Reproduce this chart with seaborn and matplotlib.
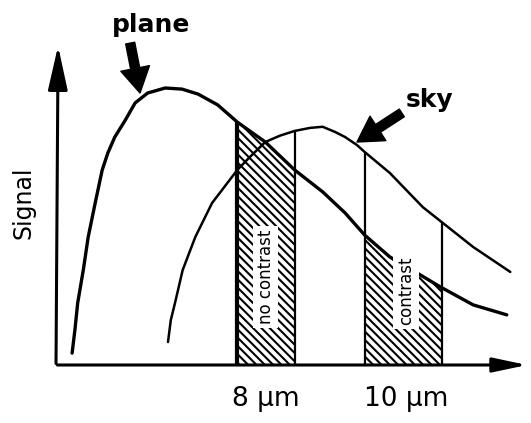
import numpy as np
import matplotlib
matplotlib.use("Agg")
import matplotlib.pyplot as plt
import seaborn as sns

# DATA (wavelength in um, signal in arbitrary units)
plane_wl  = [5.23, 5.27, 5.31, 5.39, 5.46, 5.56, 5.66, 5.74, 5.84, 5.99, 6.13, 6.31, 6.56,
             6.80, 7.03, 7.31, 7.59, 7.99, 8.41, 8.81, 9.13, 9.41, 9.77, 10.16, 10.49, 10.96, 11.44]
plane_sig = [4.3, 12.6, 22.4, 34.3, 46.2, 58.5, 70.4, 76.5, 82.3, 88.4, 94.6, 98.2, 100.0,
             99.6, 97.8, 93.9, 87.7, 80.5, 70.4, 62.5, 54.9, 46.9, 39.0, 33.2, 28.2, 21.7, 18.1]
sky_wl    = [6.60, 6.64, 6.70, 6.81, 6.99, 7.23, 7.59, 7.77, 7.99, 8.20, 8.41, 8.63, 8.81,
             8.99, 9.13, 9.30, 9.41, 9.77, 10.24, 10.51, 10.96, 11.49]
sky_sig   = [8.3, 16.2, 22.4, 34.3, 46.2, 58.5, 70.4, 75.1, 80.5, 82.8, 84.5, 85.6, 86.0,
             84.1, 82.3, 79.4, 76.9, 69.3, 57.0, 51.6, 42.6, 33.6]

bands       = [(7.59, 8.41), (9.41, 10.51)]
band_labels = ["no contrast", "contrast"]
tick_pos    = [8, 10]
tick_labels = ["8 µm", "10 µm"]

sns.set_style("white")
plt.rcParams["font.family"] = ["DejaVu Sans"]
plt.rcParams["text.color"] = "black"
plt.rcParams["xtick.color"] = "black"
plt.rcParams["hatch.linewidth"] = 1.5
plt.rcParams["hatch.color"] = "black"

fig = plt.figure(figsize=(5.31, 4.23), dpi=100)
ax = fig.add_axes([0, 58 / 423, 1, 365 / 423])
ax.set_xlim(4.2, 11.786)
ax.set_ylim(0, 131.77)

# hatched bands under the plane curve
for (lo, hi), lab in zip(bands, band_labels):
    xs = np.linspace(lo, hi, 60)
    ys = np.interp(xs, plane_wl, plane_sig)
    ax.fill_between(xs, 0, ys, facecolor="white", hatch="\\" * 4, edgecolor="black",
                    linewidth=0, zorder=1)
    for i, x in enumerate((lo, hi)):
        top = max(np.interp(x, plane_wl, plane_sig), np.interp(x, sky_wl, sky_sig))
        lw = 3 if (lo == bands[0][0] and i == 0) else 1.6
        ax.plot([x, x], [0, top], color="black", lw=lw, zorder=3, solid_capstyle="butt")

sns.lineplot(x=plane_wl, y=plane_sig, ax=ax, color="black", linewidth=2.4, zorder=4)
sns.lineplot(x=sky_wl, y=sky_sig, ax=ax, color="black", linewidth=1.8, zorder=4)

# band labels on white boxes
ax.text(8.0, 31.8, band_labels[0], rotation=90, ha="center", va="center", fontsize=12,
        bbox=dict(facecolor="white", edgecolor="none", pad=2.5), zorder=5)
ax.text(10.0, 26.7, band_labels[1], rotation=90, ha="center", va="center", fontsize=12,
        bbox=dict(facecolor="white", edgecolor="none", pad=3), zorder=5)

# axes drawn as arrows
ax.annotate("", xy=(5.03, 116.2), xytext=(5.0, -0.5),
            arrowprops=dict(arrowstyle="-|>,head_length=1.35,head_width=0.3",
                            mutation_scale=20, lw=2.2, color="black"))
ax.annotate("", xy=(11.77, 0), xytext=(4.98, 0),
            arrowprops=dict(arrowstyle="-|>,head_length=1.04,head_width=0.22",
                            mutation_scale=20, lw=2.2, color="black"))

# curve names with pointers
ax.annotate("", xy=(6.2, 98.2), xytext=(6.06, 116.2),
            arrowprops=dict(arrowstyle="simple,head_length=0.9,head_width=1.05,tail_width=0.33",
                            mutation_scale=20, color="black", shrinkA=0, shrinkB=0))
ax.annotate("", xy=(9.3, 80.5), xytext=(9.94, 91.0),
            arrowprops=dict(arrowstyle="simple,head_length=0.9,head_width=1.05,tail_width=0.33",
                            mutation_scale=20, color="black", shrinkA=0, shrinkB=0))
ax.text(6.36, 122.7, "plane", ha="center", va="center", fontsize=18, fontweight="bold")
ax.text(10.34, 95.7, "sky", ha="center", va="center", fontsize=18, fontweight="bold")

ax.text(4.54, 58.5, "Signal", rotation=90, ha="center", va="center", fontsize=17)

ax.set_xticks(tick_pos)
ax.set_xticklabels(tick_labels, fontsize=19)
ax.set_yticks([])
ax.tick_params(axis="x", length=0, pad=15)
sns.despine(ax=ax, left=True, bottom=True)
ax.set_xlabel("")
ax.set_ylabel("")

fig.savefig("out.png", dpi=100)
